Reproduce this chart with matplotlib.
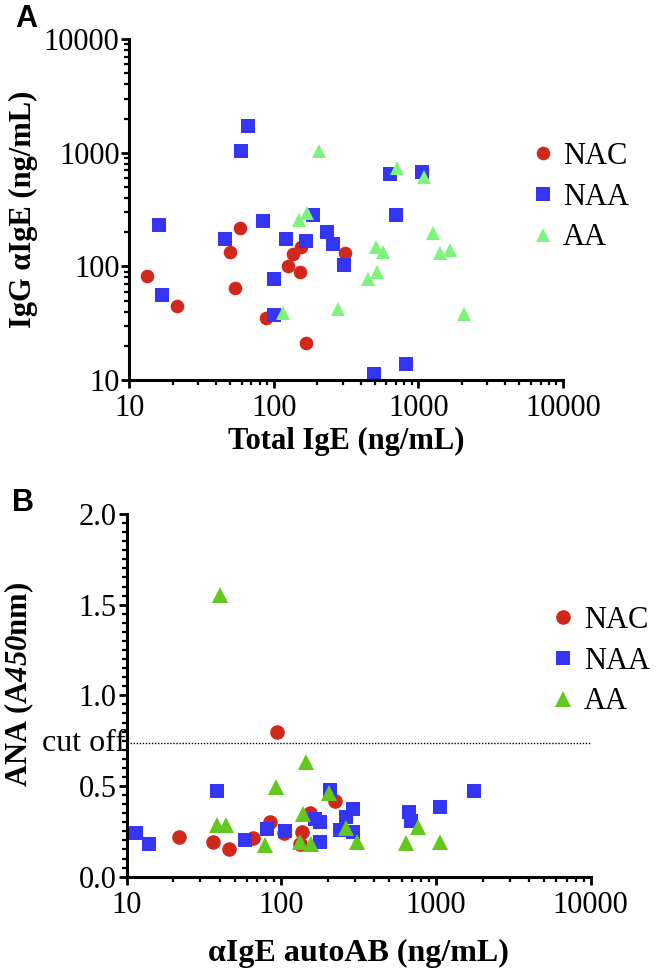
import numpy as np
import matplotlib
matplotlib.use("Agg")
import matplotlib.pyplot as plt
from matplotlib.ticker import LogLocator, MultipleLocator, NullFormatter

plt.rcParams["font.family"] = ["Liberation Serif", "DejaVu Serif"]
plt.rcParams["mathtext.fontset"] = "custom"
plt.rcParams["mathtext.rm"] = "Liberation Serif:bold"
plt.rcParams["mathtext.sf"] = "Liberation Serif:bold:italic"

# panel A: total IgE (x) vs IgG anti-IgE (y)
nac_total = [13.2, 21.5, 50, 54, 58, 88, 126, 135, 152, 154, 168, 311]
nac_igg = [82, 45, 134, 64, 217, 35.5, 100, 129, 90, 148, 21, 131]
naa_total = [16, 16.8, 46, 84, 101, 100, 122, 168, 186, 233, 255, 305,
             697, 490, 818, 66, 59, 640, 1057]
naa_igg = [233, 56, 174, 253, 78, 37.7, 175, 167, 286, 200, 158, 102,
           286, 11.4, 13.8, 1726, 1040, 649, 679]
aa_total = [205, 708, 1101, 149, 169, 1260, 508, 571, 516, 450, 1400, 1641,
            116, 278, 2066]
aa_igg = [1040, 743, 614, 255, 296, 195, 149, 134, 90, 77, 130, 139,
          38.6, 42, 38]

# panel B: anti-IgE autoAB (x) vs ANA A450 (y)
nac_auto = [21.8, 36.4, 45.9, 66, 84.4, 93.3, 104, 153, 136, 132, 224]
nac_ana = [0.221, 0.19, 0.153, 0.212, 0.303, 0.80, 0.24, 0.35, 0.248, 0.18, 0.419]
naa_auto = [11.5, 14, 38.6, 58, 81, 105, 206, 166, 179, 179, 292, 264, 241,
            292, 666, 690, 1067, 1750]
naa_ana = [0.239, 0.179, 0.474, 0.202, 0.261, 0.254, 0.478, 0.316, 0.303,
           0.19, 0.372, 0.331, 0.258, 0.248, 0.359, 0.309, 0.386, 0.474]
aa_auto = [40, 38.6, 43.7, 79, 92, 144, 139, 133, 155, 203, 264, 309, 640,
           760, 1067]
aa_ana = [1.554, 0.285, 0.285, 0.175, 0.496, 0.634, 0.346, 0.19, 0.18, 0.463,
          0.267, 0.193, 0.188, 0.272, 0.193]
cutoff = 0.735

groups = ["NAC", "NAA", "AA"]
red = "#D2281C"
blue = "#3535F5"
green_a = "#7EF57A"
green_b = "#63C81E"

W, H = 656, 969
fig = plt.figure(figsize=(W / 100, H / 100), dpi=100)


def box(l, r, t, b):
    return [l / W, 1 - b / H, (r - l) / W, (b - t) / H]


def style(ax):
    for s in ["top", "right"]:
        ax.spines[s].set_visible(False)
    for s in ["left", "bottom"]:
        ax.spines[s].set_linewidth(2.2)
    ax.tick_params(which="major", direction="out", length=6, width=2, labelsize=22, pad=1)
    ax.tick_params(which="minor", direction="out", length=3.5, width=1.6)
    ax.tick_params(axis="x", which="major", pad=4)


def legend(ax, left, top):
    ax.legend(loc="upper left", bbox_to_anchor=(left / W, 1 - top / H),
              bbox_transform=fig.transFigure, frameon=False, fontsize=22,
              handlelength=0.8, handletextpad=0.27, labelspacing=0.38,
              borderpad=0, borderaxespad=0)


# ---- A
ax1 = fig.add_axes(box(129.3, 563, 39.3, 380))
ax1.set_xscale("log")
ax1.set_yscale("log")
ax1.set_xlim(10, 10000)
ax1.set_ylim(10, 10000)
ms = 9.8
ax1.plot(nac_total, nac_igg, "o", color=red, ms=ms, mew=0, label=groups[0], clip_on=False)
ax1.plot(naa_total, naa_igg, "s", color=blue, ms=ms, mew=0, label=groups[1], clip_on=False)
ax1.plot(aa_total, aa_igg, "^", color=green_a, ms=ms + 0.5, mew=0, label=groups[2], clip_on=False)
style(ax1)
ax1.set_xticks([10, 100, 1000, 10000])
ax1.set_xticklabels(["10", "100", "1000", "10000"])
ax1.set_yticks([10, 100, 1000, 10000])
ax1.set_yticklabels(["10", "100", "1000", "10000"])
for a in (ax1.xaxis, ax1.yaxis):
    a.set_minor_locator(LogLocator(base=10, subs=np.arange(2, 10)))
    a.set_minor_formatter(NullFormatter())
ax1.set_xlabel("Total IgE (ng/mL)", fontsize=22, fontweight="bold", labelpad=3)
ax1.set_ylabel("IgG αIgE (ng/mL)", fontsize=22, fontweight="bold", labelpad=4)
legend(ax1, 530.5, 142)
fig.text(26 / W, 1 - 19 / H, "A", fontsize=22, fontweight="bold",
         family="Liberation Sans", ha="center", va="center")

# ---- B
ax2 = fig.add_axes(box(126.5, 590.7, 514, 876.7))
ax2.set_xscale("log")
ax2.set_xlim(10, 10000)
ax2.set_ylim(0, 2.0)
ms = 10.5
ax2.plot(nac_auto, nac_ana, "o", color=red, ms=ms, mew=0, label=groups[0], clip_on=False)
ax2.plot(naa_auto, naa_ana, "s", color=blue, ms=ms, mew=0, label=groups[1], clip_on=False)
ax2.plot(aa_auto, aa_ana, "^", color=green_b, ms=ms + 0.5, mew=0, label=groups[2], clip_on=False)
ax2.axhline(cutoff, color="black", lw=1.0, ls=(0, (1, 1.2)))
style(ax2)
ax2.set_xticks([10, 100, 1000, 10000])
ax2.set_xticklabels(["10", "100", "1000", "10000"])
ax2.xaxis.set_minor_locator(LogLocator(base=10, subs=np.arange(2, 10)))
ax2.xaxis.set_minor_formatter(NullFormatter())
ax2.yaxis.set_major_locator(MultipleLocator(0.5))
ax2.yaxis.set_minor_locator(MultipleLocator(0.05))
ax2.set_yticklabels([f"{v:.1f}" for v in ax2.get_yticks()])
ax2.text(-0.002, cutoff, "cut off", transform=ax2.get_yaxis_transform(),
         ha="right", va="center", fontsize=23)
ax2.set_xlabel("αIgE autoAB (ng/mL)", fontsize=23, fontweight="bold", labelpad=14)
ax2.set_ylabel(r"ANA (A$\mathsf{450}$nm)", fontsize=22, fontweight="bold")
ax2.yaxis.set_label_coords(-0.196, 0.53)
legend(ax2, 551, 606)
fig.text(23 / W, 1 - 503 / H, "B", fontsize=22, fontweight="bold",
         family="Liberation Sans", ha="center", va="center")

fig.savefig("out.png", dpi=100)
